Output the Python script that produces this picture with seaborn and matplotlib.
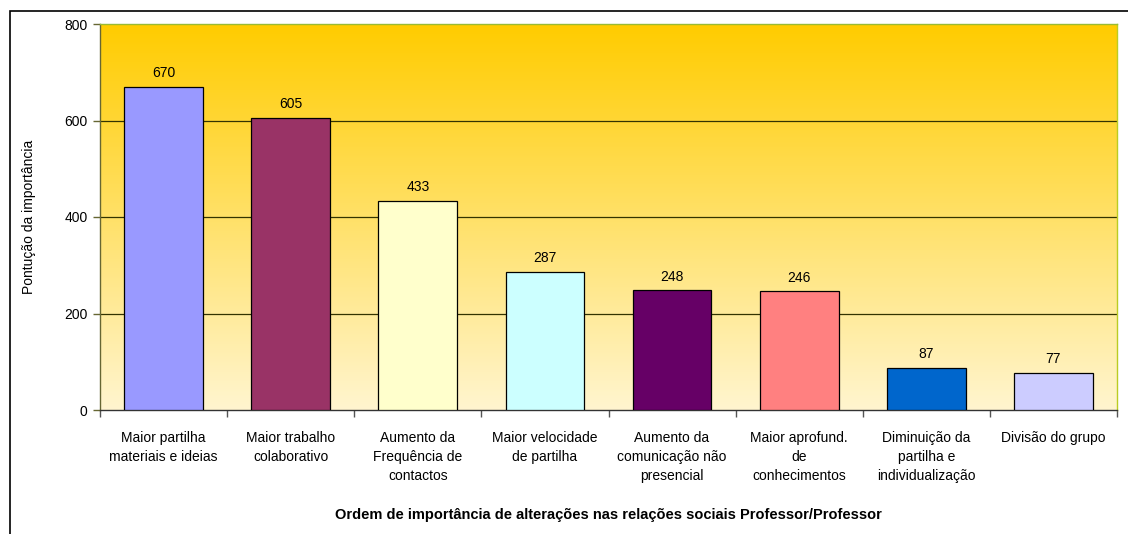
import numpy as np
import pandas as pd
import matplotlib
matplotlib.use("Agg")
import matplotlib.pyplot as plt
from matplotlib.colors import LinearSegmentedColormap
from matplotlib.patches import Rectangle
import seaborn as sns

# --- data ---
categories = [
    "Maior partilha\nmateriais e ideias",
    "Maior trabalho\ncolaborativo",
    "Aumento da\nFrequência de\ncontactos",
    "Maior velocidade\nde partilha",
    "Aumento da\ncomunicação não\npresencial",
    "Maior aprofund.\nde\nconhecimentos",
    "Diminuição da\npartilha e\nindividualização",
    "Divisão do grupo",
]
scores = [670, 605, 433, 287, 248, 246, 87, 77]
bar_colors = ["#9999FF", "#993366", "#FFFFCC", "#CCFFFF",
              "#660066", "#FF8080", "#0066CC", "#CCCCFF"]
y_ticks = [0, 200, 400, 600, 800]

df = pd.DataFrame({"categoria": categories, "pontos": scores})

sns.set_style("white")
plt.rcParams["font.family"] = ["Liberation Sans", "DejaVu Sans"]
plt.rcParams["text.color"] = "black"
plt.rcParams["axes.labelcolor"] = "black"
plt.rcParams["xtick.color"] = "black"
plt.rcParams["ytick.color"] = "black"

fig = plt.figure(figsize=(11.28, 5.34), dpi=100)
ax = fig.add_axes([100 / 1128, 1 - 410 / 534, 1017 / 1128, 386 / 534])

# gradient background (gold at top -> cream at bottom)
grad = LinearSegmentedColormap.from_list("bg", ["#FFF5CF", "#FFCC00"])
ax.imshow(np.linspace(0, 1, 256).reshape(-1, 1), cmap=grad, aspect="auto",
          origin="lower", extent=[-0.5, 7.5, 0, 800], zorder=0)

sns.barplot(data=df, x="categoria", y="pontos", hue="categoria",
            palette=bar_colors, legend=False, width=0.62, saturation=1,
            edgecolor="black", linewidth=0.9, ax=ax, zorder=3)

for i, v in enumerate(scores):
    ax.text(i, v + 14, str(v), ha="center", va="bottom", fontsize=10,
            color="black", zorder=4)

ax.set_xlim(-0.5, 7.5)
ax.set_ylim(0, 800)
ax.set_yticks(y_ticks)
ax.tick_params(axis="y", labelsize=10, length=5, width=1, color="#666633",
               labelcolor="black", left=True, direction="out", pad=4)
ax.set_xticks(np.arange(len(categories)))
ax.set_xticklabels(categories, fontsize=10, linespacing=1.45, color="black")
ax.set_xticks(np.arange(-0.5, 8, 1), minor=True)
ax.tick_params(axis="x", which="major", length=0, pad=15)
ax.tick_params(axis="x", which="minor", length=5, width=1, color="#555555",
               bottom=True, direction="out")
for t in ax.get_xticklabels():
    t.set_verticalalignment("top")

ax.grid(False)
for y in y_ticks[1:4]:
    ax.axhline(y, color="#333300", linewidth=0.9, zorder=1)

for side in ["top", "right"]:
    ax.spines[side].set_visible(True)
ax.spines["top"].set_color("#99BB33")
ax.spines["right"].set_color("#BBCC22")
ax.spines["left"].set_color("#666633")
ax.spines["bottom"].set_color("#333333")
for s in ax.spines.values():
    s.set_linewidth(1.0)

ax.set_xlabel("Ordem de importância de alterações nas relações sociais Professor/Professor",
              fontsize=10.5, fontweight="bold", labelpad=18, color="black")
ax.set_ylabel("Pontução da importância", fontsize=10, labelpad=20, color="black")

# outer chart frame (partially cut off on right/bottom in the original)
fig.patches.append(Rectangle((10 / 1128, -0.2), 1.2, 1.2 - 11 / 534,
                             transform=fig.transFigure, fill=False,
                             edgecolor="black", linewidth=1.2))

fig.savefig("out.png", dpi=100)
